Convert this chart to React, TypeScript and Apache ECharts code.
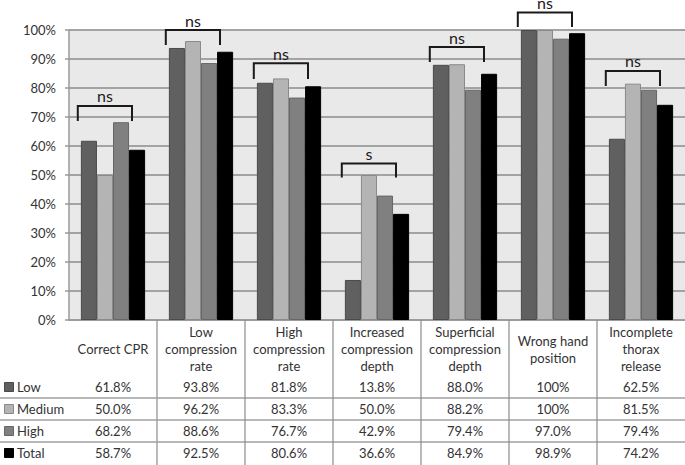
import React, { useEffect, useRef } from "react";
import * as echarts from "echarts";

const categories = [
  "Correct CPR",
  "Low\ncompression\nrate",
  "High\ncompression\nrate",
  "Increased\ncompression\ndepth",
  "Superficial\ncompression\ndepth",
  "Wrong hand\nposition",
  "Incomplete\nthorax\nrelease",
];
const seriesNames = ["Low", "Medium", "High", "Total"];
const lowValues = [61.8, 93.8, 81.8, 13.8, 88.0, 100, 62.5];
const mediumValues = [50.0, 96.2, 83.3, 50.0, 88.2, 100, 81.5];
const highValues = [68.2, 88.6, 76.7, 42.9, 79.4, 97.0, 79.4];
const totalValues = [58.7, 92.5, 80.6, 36.6, 84.9, 98.9, 74.2];
const sigLabels = ["ns", "ns", "ns", "s", "ns", "ns", "ns"];
const bracketTop = [73.8, 100, 88.5, 54.0, 94.1, 106.0, 85.9];
const bracketFoot = [68.6, 94.8, 83.1, 49.1, 89.0, 101.0, 80.7];
const yTicks = { min: 0, max: 100, interval: 10 };

const FONT = "Lato";
const colors = ["#606060", "#b4b4b4", "#808080", "#000000"];
const borders = ["#4a4a4a", "#8a8a8a", "#666666", "#000000"];
const allValues = [lowValues, mediumValues, highValues, totalValues];

const fmt = (v: number) => (v === 100 ? "100%" : v.toFixed(1) + "%");

export default function App() {
  const ref = useRef<HTMLDivElement>(null);
  useEffect(() => {
    document.body.style.margin = "0";
    const chart = echarts.init(ref.current!, null, { renderer: "svg" });
    const rowOffsets = [67, 89, 111, 133];
    const lineOffsets = [78, 100, 122];
    const option: any = {
      animation: false,
      grid: {
        left: 69,
        right: 0,
        top: 30,
        bottom: 145,
        show: true,
        backgroundColor: "#e9e9e9",
        borderWidth: 0,
      },
      xAxis: {
        type: "category",
        data: categories,
        axisLabel: { show: false },
        axisTick: { show: false },
        axisLine: { lineStyle: { color: "#9a9a9a", width: 1.5 } },
        splitLine: { show: false },
      },
      yAxis: {
        type: "value",
        min: yTicks.min,
        max: yTicks.max,
        interval: yTicks.interval,
        axisLine: { show: true, lineStyle: { color: "#9a9a9a", width: 1.5 } },
        axisTick: { show: true, length: 4, lineStyle: { color: "#9a9a9a", width: 1.5 } },
        splitLine: { lineStyle: { color: "#a3a3a3", width: 1.8 } },
        axisLabel: {
          formatter: "{value}%",
          fontFamily: FONT,
          fontSize: 13,
          color: "#333",
          margin: 13,
        },
      },
      series: [
        ...seriesNames.map((name, k) => ({
          type: "bar",
          name,
          data: allValues[k],
          barGap: "0%",
          barCategoryGap: "27%",
          itemStyle: { color: colors[k], borderColor: borders[k], borderWidth: 1 },
        })),
        {
          type: "custom",
          name: "significance",
          clip: false,
          silent: true,
          data: categories.map((_, i) => [i, bracketTop[i], bracketFoot[i]]),
          encode: { x: 0, y: 1 },
          renderItem: (params: any, api: any) => {
            const i = api.value(0);
            const top = api.coord([i, api.value(1)]);
            const foot = api.coord([i, api.value(2)]);
            const w = api.size([1, 0])[0];
            const x1 = top[0] - 0.4 * w;
            const x2 = top[0] + 0.216 * w;
            return {
              type: "group",
              children: [
                {
                  type: "polyline",
                  shape: {
                    points: [
                      [x1, foot[1]],
                      [x1, top[1]],
                      [x2, top[1]],
                      [x2, foot[1]],
                    ],
                  },
                  style: { stroke: "#1a1a1a", lineWidth: 2, fill: null },
                },
                {
                  type: "text",
                  x: (x1 + x2) / 2,
                  y: top[1] - 2,
                  style: {
                    text: sigLabels[i],
                    fontFamily: FONT,
                    fontSize: 16,
                    fill: "#1a1a1a",
                    align: "center",
                    verticalAlign: "bottom",
                  },
                },
              ],
            };
          },
        },
        {
          type: "custom",
          name: "table",
          clip: false,
          silent: true,
          data: categories.map((_, i) => [i, 0]),
          encode: { x: 0, y: 1 },
          renderItem: (params: any, api: any) => {
            const i = api.value(0);
            const base = api.coord([i, 0]);
            const w = api.size([1, 0])[0];
            const cs = params.coordSys;
            const cx = base[0];
            const y0 = base[1];
            const children: any[] = [];
            children.push({
              type: "text",
              x: cx,
              y: y0 + 29,
              style: {
                text: categories[i],
                fontFamily: FONT,
                fontSize: 13,
                lineHeight: 17,
                fill: "#333",
                align: "center",
                verticalAlign: "middle",
              },
            });
            allValues.forEach((vals, k) => {
              children.push({
                type: "text",
                x: cx,
                y: y0 + rowOffsets[k],
                style: {
                  text: fmt(vals[i]),
                  fontFamily: FONT,
                  fontSize: 13,
                  fill: "#333",
                  align: "center",
                  verticalAlign: "middle",
                },
              });
            });
            if (i < categories.length - 1) {
              children.push({
                type: "line",
                shape: { x1: cx + w / 2, y1: y0, x2: cx + w / 2, y2: y0 + 146 },
                style: { stroke: "#8c8c8c", lineWidth: 1.2 },
              });
            }
            if (i === 0) {
              lineOffsets.forEach((off) => {
                children.push({
                  type: "line",
                  shape: { x1: 0, y1: y0 + off, x2: cs.x + cs.width, y2: y0 + off },
                  style: { stroke: "#a0a0a0", lineWidth: 1.5 },
                });
              });
              seriesNames.forEach((name, k) => {
                children.push({
                  type: "rect",
                  shape: { x: 4.5, y: y0 + rowOffsets[k] - 4.5, width: 9, height: 9 },
                  style: { fill: colors[k], stroke: borders[k], lineWidth: 1 },
                });
                children.push({
                  type: "text",
                  x: 17,
                  y: y0 + rowOffsets[k],
                  style: {
                    text: name,
                    fontFamily: FONT,
                    fontSize: 13,
                    fill: "#333",
                    align: "left",
                    verticalAlign: "middle",
                  },
                });
              });
            }
            return { type: "group", children };
          },
        },
      ],
    };
    chart.setOption(option);
    return () => chart.dispose();
  }, []);
  return <div ref={ref} style={{ width: 685, height: 465 }} />;
}
